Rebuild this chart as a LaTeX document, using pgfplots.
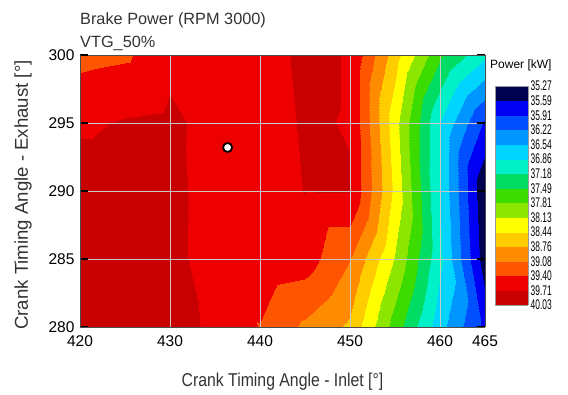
\documentclass[border=0pt]{standalone}
\usepackage{pgfplots}
\pgfplotsset{compat=1.18}
\usepackage{fontspec}
\setmainfont{Liberation Sans}
\newfontfamily\narrowfont{Liberation Sans}[FakeStretch=0.85]
\newfontfamily\cbfont{Liberation Sans}[FakeStretch=0.6]
\definecolor{c0}{HTML}{000050}
\definecolor{c1}{HTML}{0000F5}
\definecolor{c2}{HTML}{0050FF}
\definecolor{c3}{HTML}{0096FF}
\definecolor{c4}{HTML}{00D4FF}
\definecolor{c5}{HTML}{00F0C8}
\definecolor{c6}{HTML}{00DC64}
\definecolor{c7}{HTML}{3CDC00}
\definecolor{c8}{HTML}{8CE600}
\definecolor{c9}{HTML}{FFFF00}
\definecolor{c10}{HTML}{FFCC00}
\definecolor{c11}{HTML}{FF8C00}
\definecolor{c12}{HTML}{FF5500}
\definecolor{c13}{HTML}{EE0000}
\definecolor{c14}{HTML}{C80000}
\pgfkeys{/pgf/number format/assume math mode=true}
\begin{document}
\begin{tikzpicture}
\useasboundingbox (-80bp,-68bp) rectangle (488bp,327bp);
\begin{axis}[
  name=main,
  at={(0bp,0bp)}, anchor=south west,
  width=405bp, height=272bp, scale only axis,
  view={0}{90},
  xmin=420, xmax=465, ymin=280, ymax=300,
  enlargelimits=false,
  xtick={420,430,440,450,460,465},
  ytick={280,285,290,295,300},
  grid=major,
  grid style={draw=black!22, line width=0.8bp},
  axis on top,
  axis line style={draw=black!70, line width=0.8bp},
  major tick length=8bp,
  tick align=inside,
  ytick style={draw=black, line width=1.2bp},
  xtick style={draw=none},
  /pgf/number format/assume math mode=true,
  ticklabel style={font=\fontsize{15.5bp}{18bp}\selectfont},
  xticklabel style={yshift=-5bp},
  yticklabel style={xshift=-2bp},
  colormap={pmap}{color(0)=(c0) color(1)=(c1) color(2)=(c2) color(3)=(c3) color(4)=(c4) color(5)=(c5) color(6)=(c6) color(7)=(c7) color(8)=(c8) color(9)=(c9) color(10)=(c10) color(11)=(c11) color(12)=(c12) color(13)=(c13) color(14)=(c14) color(15)=(c14)},
  colormap access=piecewise constant,
  point meta min=35.27, point meta max=40.03,
  colorbar,
  colorbar style={
    at={(parent axis.north east)}, anchor=north west,
    xshift=2bp, yshift=-31bp,
    width=33bp, height=219bp, scale only axis,
    y dir=reverse,
    axis line style={draw=black!40, line width=0.6bp},
    major tick length=0pt,
    ytick={35.27,35.5873,35.9047,36.222,36.5393,36.8567,37.174,37.4913,37.8087,38.126,38.4433,38.7607,39.078,39.3953,39.7127,40.03},
    yticklabels={35.27,35.59,35.91,36.22,36.54,36.86,37.18,37.49,37.81,38.13,38.44,38.76,39.08,39.40,39.71,40.03},
    yticklabel style={anchor=west, inner sep=0pt, xshift=2bp, font=\cbfont\fontsize{14bp}{15bp}\selectfont},
  },
]
\addplot3[surf, shader=interp, mesh/cols=10] table[row sep=\\] {
x y z\\
420 280 39.90\\ 425 280 39.90\\ 430 280 39.82\\ 435 280 39.66\\ 440 280 39.38\\ 445 280 39.02\\ 450 280 38.70\\ 455 280 37.66\\ 460 280 36.66\\ 465 280 35.80\\
420 285 39.90\\ 425 285 39.88\\ 430 285 39.80\\ 435 285 39.58\\ 440 285 39.62\\ 445 285 39.55\\ 450 285 39.09\\ 455 285 38.10\\ 460 285 36.93\\ 465 285 35.40\\
420 290 39.90\\ 425 290 39.88\\ 430 290 39.80\\ 435 290 39.58\\ 440 290 39.62\\ 445 290 39.72\\ 450 290 39.73\\ 455 290 38.36\\ 460 290 36.84\\ 465 290 35.30\\
420 295 39.66\\ 425 295 39.74\\ 430 295 39.78\\ 435 295 39.60\\ 440 295 39.60\\ 445 295 39.74\\ 450 295 39.70\\ 455 295 38.24\\ 460 295 36.84\\ 465 295 35.85\\
420 300 39.30\\ 425 300 39.35\\ 430 300 39.62\\ 435 300 39.60\\ 440 300 39.62\\ 445 300 39.76\\ 450 300 39.70\\ 455 300 38.58\\ 460 300 37.55\\ 465 300 36.92\\
};
\addplot3[only marks, mark=*, mark size=4.5bp, mark options={fill=white, draw=black, line width=1.8bp}] coordinates {(436.4,293.2,41)};
\end{axis}
\node[anchor=base west, inner sep=0pt, font=\fontsize{16.3bp}{19bp}\selectfont, text=black!80] at (0bp,302.6bp) {Brake Power (RPM 3000)};
\node[anchor=base west, inner sep=0pt, font=\fontsize{16.3bp}{19bp}\selectfont, text=black!80] at (0bp,279.3bp) {VTG\_50\%};
\node[anchor=base, inner sep=0pt, font=\narrowfont\fontsize{18.6bp}{22bp}\selectfont, text=black!80] at (202.5bp,-59bp) {Crank Timing Angle - Inlet [°]};
\node[rotate=90, anchor=center, inner sep=0pt, font=\fontsize{18.6bp}{22bp}\selectfont, text=black!80] at (-57bp,132bp) {Crank Timing Angle - Exhaust [°]};
\node[anchor=base west, inner sep=0pt, font=\fontsize{12bp}{14bp}\selectfont] at (410bp,258.7bp) {Power [kW]};
\end{tikzpicture}
\end{document}
